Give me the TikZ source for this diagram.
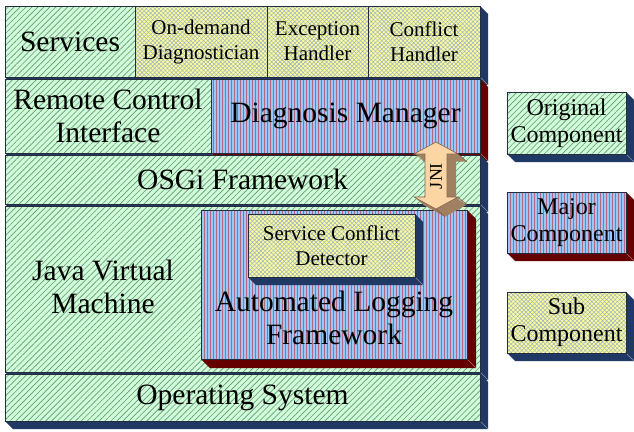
\documentclass[tikz,border=0pt]{standalone}
\usepackage{fontspec}
\setmainfont{Liberation Serif}
\usetikzlibrary{patterns.meta,calc}
\definecolor{gbg}{RGB}{208,252,214}
\definecolor{gline}{RGB}{100,150,130}
\definecolor{mbg}{RGB}{155,200,250}
\definecolor{mline}{RGB}{175,105,130}
\definecolor{sbg}{RGB}{255,255,150}
\definecolor{sline}{RGB}{160,180,200}
\definecolor{edgec}{RGB}{35,45,60}
\definecolor{extb}{RGB}{31,56,100}
\definecolor{extr}{RGB}{100,0,0}
\definecolor{arrf}{RGB}{252,213,164}
\definecolor{arrs}{RGB}{160,128,96}
\tikzset{
 face/.style={draw=edgec, line width=1pt, anchor=north west, inner sep=0pt, outer sep=0pt, align=center},
 orig/.style={face, preaction={fill=gbg}, pattern={Lines[angle=45,distance=4.2pt,line width=0.65pt]}, pattern color=gline},
 major/.style={face, preaction={fill=mbg}, pattern={Lines[angle=90,distance=3pt,line width=1pt]}, pattern color=mline},
 sub/.style={face, preaction={fill=sbg}, pattern={Hatch[angle=45,distance=3pt,line width=0.55pt]}, pattern color=sline},
 big/.style={font=\fontsize{29.5}{33}\selectfont},
 small/.style={font=\fontsize{21}{25}\selectfont},
 leg/.style={font=\fontsize{24}{27}\selectfont},
 lbl/.style={align=center, inner sep=0pt},
}
\newcommand\blk[7]{\node[#6, minimum width={(#4-#2)*1pt}, minimum height={(#5-#3)*1pt}] (#1) at (#2,#3) {#7};}
\newcommand\ext[6]{\fill[#1] (#4,#3) -- (#4+#6,#3+#6) -- (#4+#6,#5+#6) -- (#2+#6,#5+#6) -- (#2,#5) -- (#4,#5) -- cycle;
 \draw[#1!55!white, line width=0.6pt] (#4,#5) -- (#4+#6,#5+#6);}
\begin{document}
\begin{tikzpicture}[x=1pt,y=-1pt]
\useasboundingbox (0,0) rectangle (634,431);
% extrusions of the main stack
\ext{extb}{5}{6}{480}{77}{8}
\ext{extb}{5}{79}{211}{153}{8}
\ext{extr}{211}{79}{480}{153}{8}
\ext{extb}{5}{155}{480}{204}{8}
\ext{extb}{5}{206}{480}{372}{8}
\ext{extb}{5}{374}{480}{421}{8}
% faces
\blk{services}{5}{6}{135}{77}{orig,big}{Services}
\blk{ondemand}{135}{6}{267}{77}{sub,small}{On-demand\\Diagnostician}
\blk{exception}{267}{6}{368}{77}{sub,small}{Exception\\Handler}
\blk{conflict}{368}{6}{480}{77}{sub,small}{Conflict\\Handler}
\blk{remote}{5}{79}{211}{153}{orig,big}{Remote Control\\Interface}
\blk{diagman}{211}{79}{480}{153}{major,big}{Diagnosis Manager}
\blk{osgi}{5}{155}{480}{204}{orig,big}{OSGi Framework}
\blk{jvm}{5}{206}{480}{372}{orig}{}
\blk{os}{5}{374}{480}{421}{orig,big}{Operating System}
\node[lbl,big] (jvmtext) at (103,287) {Java Virtual\\Machine};
% automated logging framework
\ext{extr}{201}{210}{467}{359}{9}
\blk{alf}{201}{210}{467}{359}{major}{}
\node[lbl,big] (alftext) at (334,318) {Automated Logging\\Framework};
\ext{extb}{248}{214}{415}{277}{8}
\blk{scd}{248}{214}{415}{277}{sub,small}{Service Conflict\\Detector}
% JNI arrow
\foreach \d in {1,...,9}{
 \fill[arrs, shift={(\d,0.85*\d)}] (436,142) -- (458,154) -- (447,154) -- (447,197) -- (458,197) -- (436,209) -- (414,197) -- (425,197) -- (425,154) -- (414,154) -- cycle;}
\draw[arrs!70!black, line width=0.5pt] (436,209) -- ++(9,7.65) (458,197) -- ++(9,7.65) (458,154) -- ++(9,7.65);
\draw[fill=arrf, draw=arrs!80!black, line width=0.6pt] (436,142) -- (458,154) -- (447,154) -- (447,197) -- (458,197) -- (436,209) -- (414,197) -- (425,197) -- (425,154) -- (414,154) -- cycle;
\node[rotate=90, inner sep=0pt, font=\fontsize{18}{18}\selectfont] (jni) at (436,176) {JNI};
% legend
\ext{extb}{507}{92}{626}{154}{8}
\blk{legorig}{507}{92}{626}{154}{orig,leg}{Original\\Component}
\ext{extr}{507}{192}{626}{253}{8}
\blk{legmajor}{507}{192}{626}{253}{major,leg}{Major\\Component}
\ext{extb}{507}{292}{626}{353}{8}
\blk{legsub}{507}{292}{626}{353}{sub,leg}{Sub\\Component}
\end{tikzpicture}
\end{document}
